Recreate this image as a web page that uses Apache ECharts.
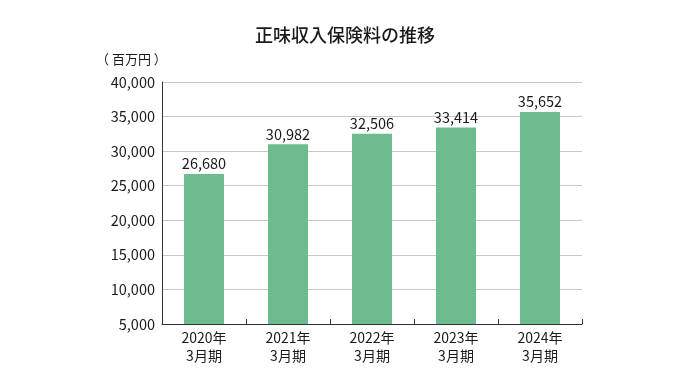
<!DOCTYPE html>
<html><head><meta charset="utf-8">
<script src="https://cdn.jsdelivr.net/npm/echarts@6/dist/echarts.min.js"></script>
<style>html,body{margin:0;padding:0;background:#fff}#c{width:690px;height:382px}</style>
</head><body><div id="c"></div>
<script>
const categories = ['2020年\n3月期','2021年\n3月期','2022年\n3月期','2023年\n3月期','2024年\n3月期'];
const values = [26680, 30982, 32506, 33414, 35652];
const yTicks = [5000, 10000, 15000, 20000, 25000, 30000, 35000, 40000];
const title = '正味収入保険料の推移';
const unit = '（ 百万円 ）';

const font = '"Noto Sans CJK JP", "Noto Sans", sans-serif';
const chart = echarts.init(document.getElementById('c'));
chart.setOption({
  animation: false,
  backgroundColor: '#fff',
  textStyle: {fontFamily: font},
  title: {text: title, left: 'center', top: 21, textStyle: {fontSize: 18, fontWeight: 500, color: '#1a1a1a', fontFamily: font}},
  graphic: [{type: 'text', left: 96, top: 53, style: {text: unit, fontSize: 13, fill: '#1a1a1a', fontFamily: font}}],
  grid: {left: 162, right: 108, top: 82, bottom: 58},
  xAxis: {
    type: 'category', data: categories,
    axisLine: {lineStyle: {color: '#333', width: 1}},
    axisTick: {show: true, inside: true, length: 5, lineStyle: {color: '#333'}},
    axisLabel: {color: '#1a1a1a', fontSize: 14, lineHeight: 18, margin: 5, fontFamily: font}
  },
  yAxis: {
    type: 'value', min: yTicks[0], max: yTicks[yTicks.length-1], interval: 5000,
    axisLine: {show: true, lineStyle: {color: '#333', width: 1}},
    axisTick: {show: false},
    splitLine: {lineStyle: {color: '#c8c8c8', width: 1}},
    axisLabel: {color: '#1a1a1a', fontSize: 14.5, margin: 7, fontFamily: font,
      formatter: v => v.toLocaleString('en-US')}
  },
  series: [{
    type: 'bar', data: values, barWidth: 40,
    itemStyle: {color: '#6dbb8f'},
    label: {show: true, position: 'top', distance: 3, color: '#1a1a1a', fontSize: 14.5, fontFamily: font,
      formatter: p => p.value.toLocaleString('en-US')}
  }]
});
</script></body></html>
